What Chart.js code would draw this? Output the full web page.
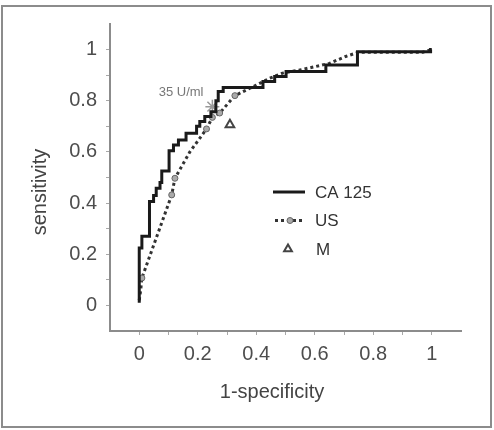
<!DOCTYPE html>
<html>
<head>
<meta charset="utf-8">
<script src="https://cdn.jsdelivr.net/npm/chart.js@4/dist/chart.umd.min.js"></script>
<style>
  body { margin: 0; background: #fff; }
  canvas { display: block; }
</style>
</head>
<body>
<canvas id="roc" width="494" height="430"></canvas>
<script>
// ROC data
const caX = [0, 0, 0.009, 0.035, 0.049, 0.058, 0.071, 0.077, 0.102, 0.117, 0.134, 0.16, 0.196, 0.207, 0.224, 0.245, 0.262, 0.27, 0.287, 0.423, 0.463, 0.502, 0.638, 0.746, 0.996, 1.0];
const caY = [0.01, 0.224, 0.27, 0.406, 0.43, 0.458, 0.48, 0.525, 0.605, 0.627, 0.647, 0.673, 0.70, 0.719, 0.738, 0.757, 0.80, 0.836, 0.852, 0.875, 0.895, 0.914, 0.94, 0.992, 1.0, 1.0];

const usX = [0, 0.005, 0.009, 0.111, 0.122, 0.173, 0.23, 0.25, 0.275, 0.327, 0.4, 0.446, 0.49, 0.548, 0.604, 0.65, 0.706, 0.75, 0.97, 1.0];
const usY = [0.02, 0.06, 0.107, 0.432, 0.497, 0.60, 0.69, 0.735, 0.752, 0.82, 0.861, 0.888, 0.908, 0.92, 0.934, 0.946, 0.973, 0.99, 0.99, 1.0];
const usMarked = [2, 3, 4, 6, 7, 8, 9];

const mX = [0.31];
const mY = [0.706];

const cutX = [0.25];
const cutY = [0.777];
const cutLabel = '35 U/ml';
const cutLabelPos = [0.143, 0.833];

const seriesNames = ['CA 125', 'US', 'M'];
const xTickLabels = ['0', '0.2', '0.4', '0.6', '0.8', '1'];
const yTickLabels = ['0', '0.2', '0.4', '0.6', '0.8', '1'];
const xTitle = '1-specificity';
const yTitle = 'sensitivity';

const pts = (xs, ys) => xs.map((x, i) => ({ x: x, y: ys[i] }));
const FONT = '"Liberation Sans", Arial, sans-serif';

const tickLabel = (labels) => (value) => {
    const k = Math.round(value * 10);
    return (k >= 0 && k <= 10 && k % 2 === 0) ? labels[k / 2] : '';
};
const tickColor = (ctx) => {
    const k = Math.round(ctx.tick.value * 10);
    return (k < 0 || k > 10) ? 'rgba(0,0,0,0)' : '#a8a8a8';
};

const decor = {
    id: 'decor',
    beforeDraw(chart) {
        const ctx = chart.ctx;
        ctx.save();
        ctx.strokeStyle = '#8c8c8c';
        ctx.lineWidth = 2;
        ctx.strokeRect(2, 6, 489, 421);
        ctx.restore();
    },
    afterDraw(chart) {
        const ctx = chart.ctx;
        const xs = chart.scales.x, ys = chart.scales.y;
        ctx.save();
        // axis titles
        ctx.fillStyle = '#444';
        ctx.font = '20px ' + FONT;
        ctx.textAlign = 'center';
        ctx.textBaseline = 'middle';
        ctx.fillText(xTitle, 272, 392);
        ctx.save();
        ctx.translate(40, 192);
        ctx.rotate(-Math.PI / 2);
        ctx.fillText(yTitle, 0, 0);
        ctx.restore();

        // cut-off label
        ctx.fillStyle = '#777';
        ctx.font = '13px ' + FONT;
        ctx.fillText(cutLabel, xs.getPixelForValue(cutLabelPos[0]), ys.getPixelForValue(cutLabelPos[1]));

        // legend
        const lx = 273, ty = 192, gap = 28.5;
        ctx.font = '17px ' + FONT;
        ctx.textAlign = 'left';
        ctx.fillStyle = '#333';
        ctx.strokeStyle = '#1a1a1a';
        ctx.lineWidth = 3;
        ctx.beginPath(); ctx.moveTo(lx, ty); ctx.lineTo(lx + 32, ty); ctx.stroke();
        ctx.fillText(seriesNames[0], 315, ty + 1);

        ctx.strokeStyle = '#333';
        ctx.setLineDash([3, 3]);
        ctx.beginPath(); ctx.moveTo(lx + 2, ty + gap); ctx.lineTo(lx + 31, ty + gap); ctx.stroke();
        ctx.setLineDash([]);
        ctx.fillStyle = '#aaa';
        ctx.strokeStyle = '#666';
        ctx.lineWidth = 1;
        Chart.helpers.drawPoint(ctx, { pointStyle: 'circle', radius: 3, borderWidth: 1 }, lx + 17, ty + gap);
        ctx.fillStyle = '#333';
        ctx.fillText(seriesNames[1], 315, ty + gap + 1);

        ctx.fillStyle = '#fff';
        ctx.strokeStyle = '#444';
        ctx.lineWidth = 2;
        Chart.helpers.drawPoint(ctx, { pointStyle: 'triangle', radius: 4.5, borderWidth: 2 }, 288, ty + 2 * gap);
        ctx.fillStyle = '#333';
        ctx.fillText(seriesNames[2], 316, ty + 2 * gap + 1);
        ctx.restore();
    }
};

new Chart(document.getElementById('roc'), {
    type: 'scatter',
    data: {
        datasets: [
            {
                label: seriesNames[0],
                data: pts(caX, caY),
                showLine: true,
                stepped: 'before',
                borderColor: '#1a1a1a',
                borderWidth: 3,
                pointRadius: 0,
            },
            {
                label: seriesNames[1],
                data: pts(usX, usY),
                showLine: true,
                borderColor: '#333',
                borderWidth: 3,
                borderDash: [3, 3],
                pointRadius: (c) => usMarked.includes(c.dataIndex) ? 3 : 0,
                pointBackgroundColor: '#aaa',
                pointBorderColor: '#666',
                pointBorderWidth: 1,
            },
            {
                label: seriesNames[2],
                data: pts(mX, mY),
                pointStyle: 'triangle',
                pointRadius: 5,
                pointBackgroundColor: '#fff',
                pointBorderColor: '#444',
                pointBorderWidth: 2,
            },
            {
                label: cutLabel,
                data: pts(cutX, cutY),
                pointStyle: 'star',
                pointRadius: 7,
                pointBorderColor: '#999',
                pointBorderWidth: 1.5,
            },
        ],
    },
    options: {
        responsive: false,
        animation: false,
        devicePixelRatio: 1,
        layout: { padding: { top: 24, right: 33, left: 0, bottom: 0 } },
        plugins: {
            legend: { display: false },
            tooltip: { enabled: false },
        },
        scales: {
            x: {
                type: 'linear',
                min: -0.1,
                max: 1.1,
                afterFit: (s) => { s.height = 99; },
                border: { color: '#8c8c8c', width: 2 },
                grid: { drawOnChartArea: false, tickLength: 4, color: tickColor },
                ticks: {
                    stepSize: 0.1,
                    autoSkip: false,
                    maxRotation: 0,
                    padding: 7,
                    color: '#4d4d4d',
                    font: { family: FONT, size: 20 },
                    callback: tickLabel(xTickLabels),
                },
            },
            y: {
                type: 'linear',
                min: -0.1,
                max: 1.1,
                afterFit: (s) => { s.width = 110; },
                border: { color: '#8c8c8c', width: 2 },
                grid: { drawOnChartArea: false, tickLength: 4, color: tickColor },
                ticks: {
                    stepSize: 0.1,
                    autoSkip: false,
                    padding: 9,
                    color: '#4d4d4d',
                    font: { family: FONT, size: 20 },
                    callback: tickLabel(yTickLabels),
                },
            },
        },
    },
    plugins: [decor],
});
</script>
</body>
</html>
